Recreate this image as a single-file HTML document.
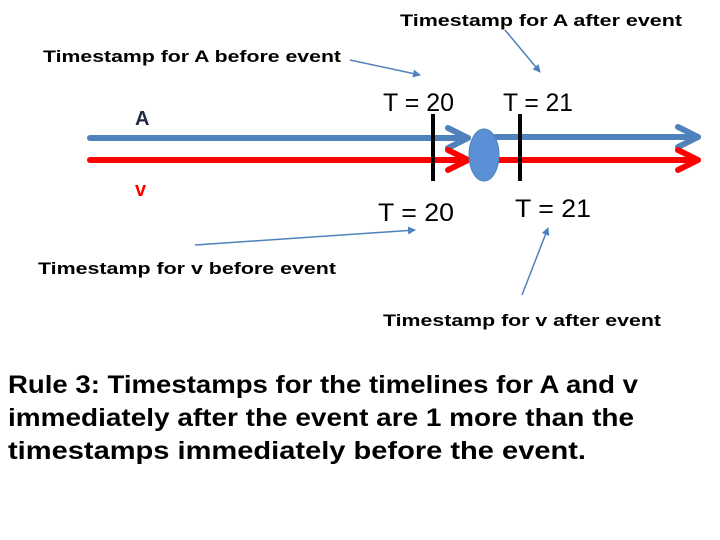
<!DOCTYPE html>
<html><head><meta charset="utf-8"><style>
html,body{margin:0;padding:0;background:#fff;}
svg{display:block;font-family:"Liberation Sans",sans-serif;}
</style></head><body>
<svg width="720" height="540" viewBox="0 0 720 540">
<defs>
<marker id="sa" markerWidth="8" markerHeight="8" refX="7" refY="4" orient="auto" markerUnits="userSpaceOnUse"><path d="M0,0 L8,4 L0,8 Z" fill="#4f81bd"/></marker>
</defs>
<g stroke="#4f81bd" stroke-width="6" fill="none" stroke-linecap="round" stroke-linejoin="round">
<line x1="90" y1="138" x2="468" y2="138"/>
<polyline points="448,128 468,138 448,148"/>
<line x1="495" y1="137" x2="698" y2="137"/>
<polyline points="678,127 698,137 678,147"/>
</g>
<g stroke="#ff0000" stroke-width="6" fill="none" stroke-linecap="round" stroke-linejoin="round">
<line x1="90" y1="160" x2="468" y2="160"/>
<polyline points="448,150 468,160 448,170"/>
<line x1="497" y1="160" x2="698" y2="160"/>
<polyline points="678,150 698,160 678,170"/>
</g>
<ellipse cx="484" cy="155" rx="15" ry="26" fill="#5b8fd6" stroke="#4f81bd"/>
<line x1="433" y1="114" x2="433" y2="181" stroke="#000" stroke-width="4"/>
<line x1="520" y1="114" x2="520" y2="181" stroke="#000" stroke-width="4"/>
<g font-size="25" fill="#000">
<text x="383" y="111" textLength="71" lengthAdjust="spacingAndGlyphs">T = 20</text>
<text x="503" y="111" textLength="70" lengthAdjust="spacingAndGlyphs">T = 21</text>
<text x="378" y="221" textLength="76" lengthAdjust="spacingAndGlyphs">T = 20</text>
<text x="515" y="217" textLength="76" lengthAdjust="spacingAndGlyphs">T = 21</text>
</g>
<text x="135" y="125" font-size="20" font-weight="bold" fill="#1f2a44">A</text>
<text x="135" y="196" font-size="20" font-weight="bold" fill="#ff0000">v</text>
<g font-size="17" font-weight="bold" fill="#000">
<text x="400" y="26" textLength="282" lengthAdjust="spacingAndGlyphs">Timestamp for A after event</text>
<text x="43" y="62" textLength="298" lengthAdjust="spacingAndGlyphs">Timestamp for A before event</text>
<text x="38" y="274" textLength="298" lengthAdjust="spacingAndGlyphs">Timestamp for v before event</text>
<text x="383" y="326" textLength="278" lengthAdjust="spacingAndGlyphs">Timestamp for v after event</text>
</g>
<g stroke="#4f81bd" stroke-width="1.5">
<line x1="350" y1="60" x2="420" y2="75" marker-end="url(#sa)"/>
<line x1="505" y1="30" x2="540" y2="72" marker-end="url(#sa)"/>
<line x1="195" y1="245" x2="415" y2="230" marker-end="url(#sa)"/>
<line x1="522" y1="295" x2="548" y2="228" marker-end="url(#sa)"/>
</g>
<g font-size="25" font-weight="bold" fill="#000">
<text x="8" y="393" textLength="630" lengthAdjust="spacingAndGlyphs">Rule 3: Timestamps for the timelines for A and v</text>
<text x="8" y="426" textLength="626" lengthAdjust="spacingAndGlyphs">immediately after the event are 1 more than the</text>
<text x="8" y="459" textLength="578" lengthAdjust="spacingAndGlyphs">timestamps immediately before the event.</text>
</g>
</svg>
</body></html>
